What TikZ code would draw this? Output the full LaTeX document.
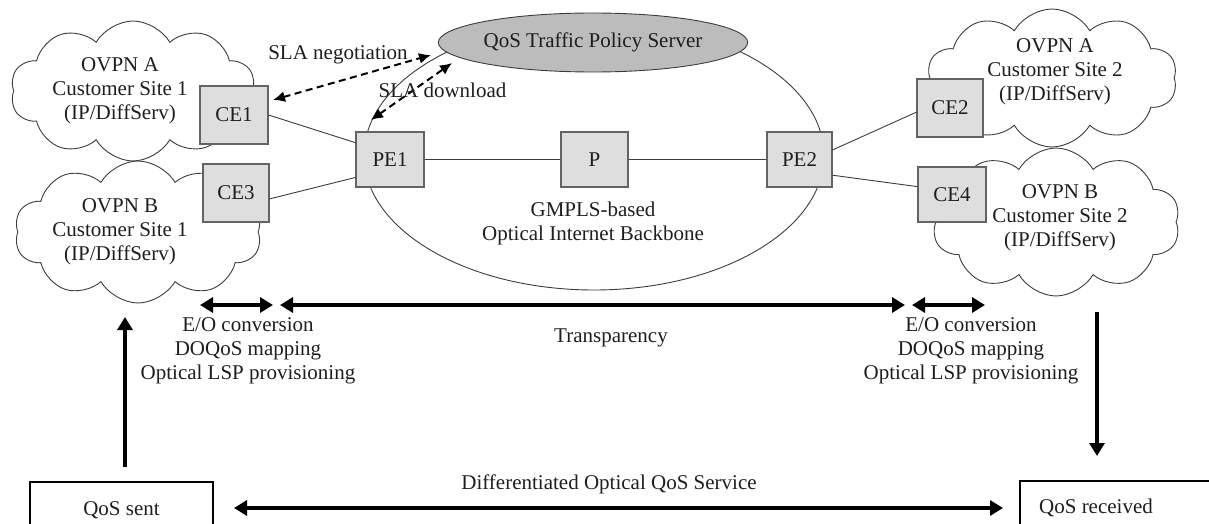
\documentclass[tikz,border=0pt]{standalone}
\usepackage{fontspec}
\setmainfont{Liberation Serif}
\usetikzlibrary{shapes.geometric,shapes.symbols,arrows.meta,calc}
\definecolor{txt}{RGB}{30,30,30}
\definecolor{ln}{RGB}{60,60,60}
\definecolor{boxfill}{RGB}{222,222,222}
\definecolor{srvfill}{RGB}{188,188,188}
\tikzset{
  lbl/.style={text=txt, inner sep=0pt, align=center},
  netbox/.style={draw=ln!80, line width=1.1pt, fill=boxfill, minimum width=68pt, minimum height=56pt, text=txt, inner sep=0pt},
  cloudsite/.style={cloud, cloud puffs=10, cloud puff arc=120, cloud ignores aspect, draw=ln, line width=0.9pt, fill=white},
  thin/.style={draw=ln, line width=0.9pt},
  dsharrow/.style={draw=black, line width=2pt, dash pattern=on 7pt off 4.5pt, arrows={Latex[length=12pt,width=11pt]-Latex[length=12pt,width=11pt]}},
  tharrow/.style={draw=black, line width=3.8pt, arrows={Triangle[length=13pt,width=15pt]-Triangle[length=13pt,width=15pt]}},
  onearrow/.style={draw=black, line width=3.8pt, arrows={-Triangle[length=13pt,width=15pt]}},
  qbox/.style={draw=black, line width=1.3pt, fill=white, text=txt}
}
\begin{document}
\begin{tikzpicture}[x=1pt,y=-1pt,font=\fontsize{21}{24}\selectfont]
\useasboundingbox (0,0) rectangle (1209,524);
% backbone
\node[ellipse, draw=ln, line width=0.9pt, minimum width=460pt, minimum height=269pt, inner sep=0pt] (bb) at (594,155.5) {};
\node[ellipse, draw=ln, line width=0.9pt, fill=srvfill, minimum width=300pt, minimum height=59pt, inner sep=0pt, text=txt] (srv) at (593,42.5) {QoS Traffic Policy Server};
\node[lbl] (bbtxt) at (593,223.5) {GMPLS-based\\Optical Internet Backbone};
% clouds
\node[cloudsite, minimum width=245pt, minimum height=140pt] (cA1) at (133,91) {};
\node[cloudsite, minimum width=247pt, minimum height=142pt] (cB1) at (138,232) {};
\node[cloudsite, minimum width=250pt, minimum height=138pt] (cA2) at (1052,78) {};
\node[cloudsite, minimum width=248pt, minimum height=148pt] (cB2) at (1056,222) {};
\node[lbl] (tA1) at (120,91) {OVPN A\\Customer Site 1\\(IP/DiffServ)};
\node[lbl] (tB1) at (120,231.5) {OVPN B\\Customer Site 1\\(IP/DiffServ)};
\node[lbl] (tA2) at (1055,72) {OVPN A\\Customer Site 2\\(IP/DiffServ)};
\node[lbl] (tB2) at (1060,218) {OVPN B\\Customer Site 2\\(IP/DiffServ)};
% boxes
\node[netbox, minimum height=58pt] (CE1) at (234,115) {CE1};
\node[netbox, minimum width=66pt, minimum height=58pt] (CE3) at (236,193) {CE3};
\node[netbox, minimum height=55pt] (PE1) at (390,159.5) {PE1};
\node[netbox, minimum width=67pt, minimum height=55pt] (P) at (594.5,159.5) {P};
\node[netbox, minimum width=65pt, minimum height=55pt] (PE2) at (799.5,159.5) {PE2};
\node[netbox, minimum width=66pt, minimum height=58pt] (CE2) at (950,108) {CE2};
\node[netbox, minimum height=55pt] (CE4) at (952,194.5) {CE4};
% links
\draw[thin] (CE1.east) -- ($(PE1.north west)!0.2!(PE1.south west)$);
\draw[thin] ($(CE3.north east)!0.6!(CE3.south east)$) -- ($(PE1.north west)!0.82!(PE1.south west)$);
\draw[thin] (PE1.east) -- (P.west);
\draw[thin] (P.east) -- (PE2.west);
\draw[thin] ($(PE2.north east)!0.33!(PE2.south east)$) -- ($(CE2.north west)!0.57!(CE2.south west)$);
\draw[thin] ($(PE2.north east)!0.78!(PE2.south east)$) -- ($(CE4.north west)!0.36!(CE4.south west)$);
% SLA arrows
\coordinate (n1) at (273,100);
\coordinate (n2) at (431,55);
\coordinate (d1) at (371,120);
\coordinate (d2) at (452,63);
\draw[dsharrow] (n1) -- (n2);
\draw[dsharrow] (d1) -- (d2);
\node[lbl] (slaneg) at (338,55) {SLA negotiation};
\node[lbl] (sladl) at (442.5,90) {SLA download};
% transparency arrows
\coordinate (a1) at (200,305);
\coordinate (a2) at (273,305);
\coordinate (a3) at (280,305);
\coordinate (a4) at (905,305);
\coordinate (a5) at (912,305);
\coordinate (a6) at (985,305);
\draw[tharrow] (a1) -- (a2);
\draw[tharrow] (a3) -- (a4);
\draw[tharrow] (a5) -- (a6);
\node[lbl] (eoL) at (248,351) {E/O conversion\\DOQoS mapping\\Optical LSP provisioning};
\node[lbl] (eoR) at (971,351) {E/O conversion\\DOQoS mapping\\Optical LSP provisioning};
\node[lbl] (transp) at (611,338) {Transparency};
% bottom
\node[qbox, minimum width=183pt, minimum height=56pt] (sent) at (121.5,510) {QoS sent};
\node[qbox, minimum width=200pt, minimum height=56pt] (recv) at (1120,509) {};
\node[lbl] (recvt) at (1096,508) {QoS received};
\coordinate (u1) at (125,467);
\coordinate (u2) at (125,317);
\draw[onearrow] (u1) -- (u2);
\coordinate (v1) at (1097,312);
\coordinate (v2) at (1097,456);
\draw[onearrow] (v1) -- (v2);
\coordinate (b1) at (234,508);
\coordinate (b2) at (1003,508);
\draw[tharrow] (b1) -- (b2);
\node[lbl] (diff) at (609,484) {Differentiated Optical QoS Service};
\end{tikzpicture}
\end{document}
